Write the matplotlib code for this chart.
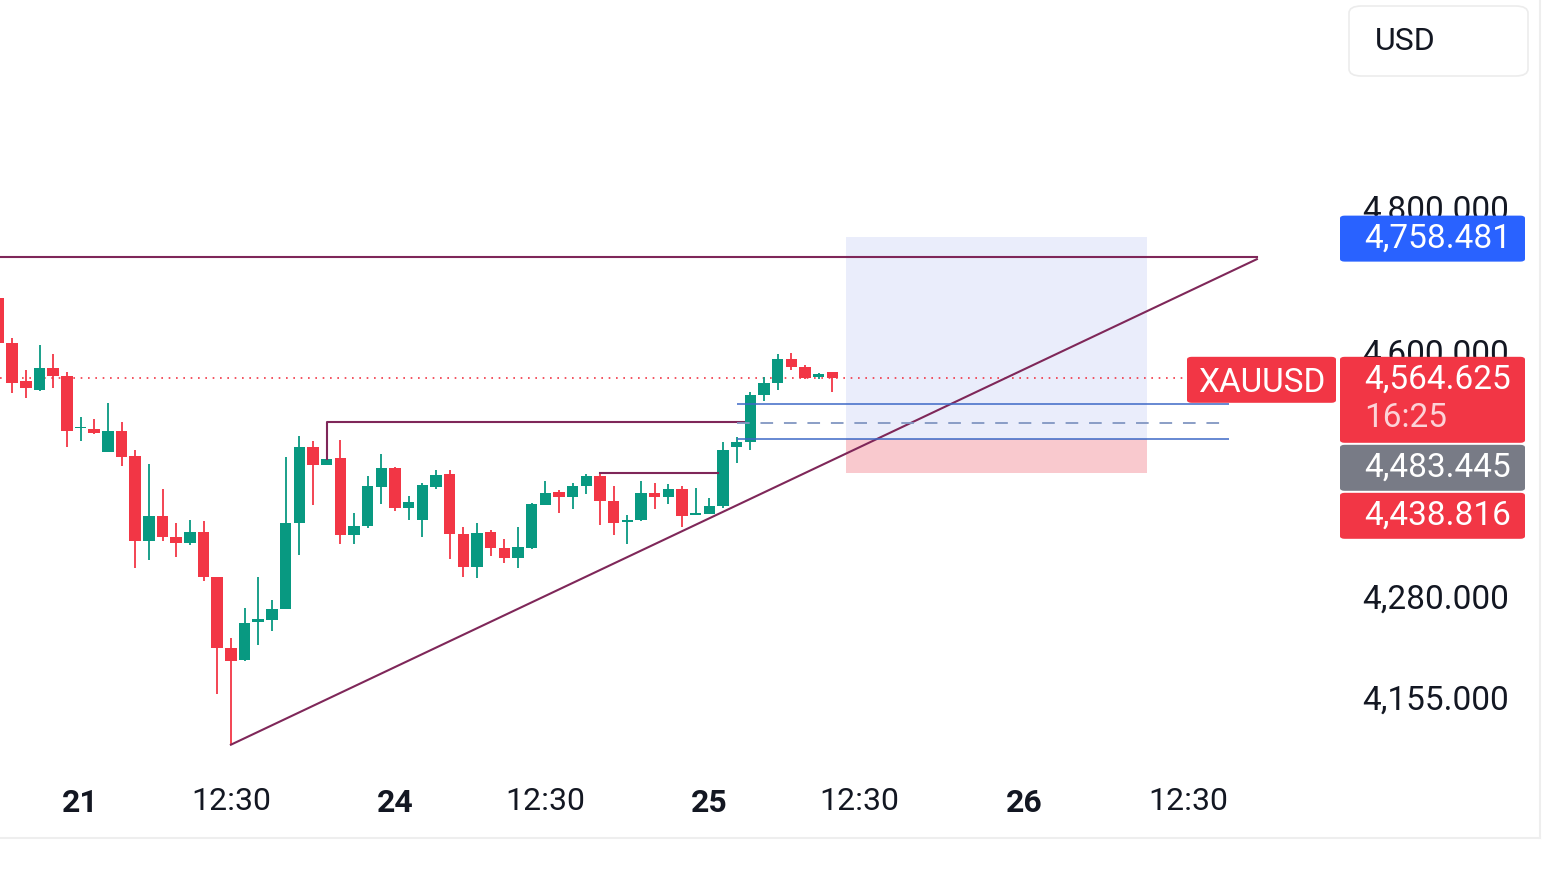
import numpy as np
import matplotlib
matplotlib.use('Agg')
import matplotlib.pyplot as plt
from matplotlib.patches import FancyBboxPatch
from matplotlib.lines import Line2D
from matplotlib.ticker import NullLocator, NullFormatter

plt.rcParams['font.family'] = ['Roboto', 'DejaVu Sans']

# hourly XAUUSD candles
opens = [4673, 4611, 4560, 4548, 4578, 4567, 4497, 4496, 4466, 4493,
         4461, 4350, 4383, 4356, 4348, 4362, 4305, 4216, 4200, 4248,
         4250, 4264, 4374, 4473, 4449, 4458, 4358, 4370, 4420, 4445,
         4393, 4377, 4420, 4437, 4360, 4317, 4362, 4342, 4329, 4342,
         4397, 4414, 4407, 4422, 4435, 4402, 4375, 4377, 4412, 4407,
         4417, 4384, 4385, 4395, 4472, 4479, 4542, 4558, 4590, 4579,
         4566, 4572]
highs = [4676, 4618, 4575, 4609, 4597, 4572, 4512, 4510, 4531, 4506,
         4468, 4450, 4417, 4373, 4377, 4376, 4305, 4228, 4265, 4304,
         4276, 4459, 4487, 4481, 4506, 4482, 4387, 4434, 4463, 4446,
         4408, 4426, 4442, 4442, 4369, 4374, 4365, 4353, 4369, 4400,
         4428, 4416, 4426, 4437, 4439, 4422, 4384, 4428, 4426, 4424,
         4422, 4419, 4406, 4479, 4486, 4546, 4566, 4597, 4598, 4582,
         4571, 4573]
lows = [4609, 4544, 4537, 4547, 4551, 4472, 4480, 4490, 4466, 4448,
        4316, 4326, 4351, 4330, 4345, 4299, 4159, 4097, 4199, 4219,
        4237, 4264, 4333, 4397, 4449, 4347, 4347, 4367, 4398, 4389,
        4378, 4356, 4417, 4327, 4304, 4303, 4331, 4322, 4316, 4340,
        4397, 4387, 4392, 4411, 4371, 4358, 4346, 4376, 4391, 4398,
        4368, 4384, 4385, 4393, 4452, 4469, 4534, 4548, 4575, 4563,
        4563, 4545]
closes = [4612, 4558, 4551, 4578, 4567, 4494, 4499, 4491, 4493, 4460,
          4350, 4383, 4356, 4348, 4362, 4305, 4215, 4199, 4247, 4251,
          4264, 4374, 4473, 4449, 4457, 4358, 4370, 4421, 4445, 4393,
          4401, 4423, 4436, 4359, 4317, 4361, 4342, 4329, 4343, 4398,
          4412, 4407, 4422, 4435, 4402, 4374, 4378, 4412, 4407, 4417,
          4383, 4387, 4395, 4469, 4479, 4542, 4558, 4590, 4579, 4565,
          4570, 4564.625]

xtick_pos = [6, 17, 29, 40, 52, 63, 75, 87]
xtick_labels = ['21', '12:30', '24', '12:30', '25', '12:30', '26', '12:30']
ytick_vals = [4155, 4280, 4600, 4800]

last_price = 4564.625
target_price = 4758.481
entry_price = 4483.445
stop_price = 4438.816
resistance = 4730
breakout_hi = 4529
breakout_mid = 4504

RED = '#F23645'
GREEN = '#089981'
PURPLE = '#7F2759'
TXT = '#131722'

W, H = 1568, 882
fig = plt.figure(figsize=(W / 100, H / 100), dpi=100)
ax = fig.add_axes([0, 1 - 775 / H, 1340 / W, 775 / H])
ax.set_yscale('log')
ax.set_xlim(0.11, 98.13)
ax.set_ylim(4060.6, 5102)

# candles
x = np.arange(len(opens))
o, h, l, c = (np.array(v, dtype=float) for v in (opens, highs, lows, closes))
cols = np.where(c >= o, GREEN, RED)
ax.vlines(x, l, h, colors=cols, lw=1.3, zorder=4)
ax.bar(x, np.maximum(np.abs(c - o), 1.8), bottom=np.minimum(o, c),
       width=0.84, color=cols, zorder=5)

# long position tool
ax.fill_between([62, 84], entry_price, target_price, color='#EAEDFB', lw=0, zorder=1)
ax.fill_between([62, 84], stop_price, entry_price, color='#F9C9CE', lw=0, zorder=1)

# trend lines
ax.plot([0.11, 92.05], [resistance, resistance], color=PURPLE, lw=1.5, zorder=6)
ax.plot([17, 92.05], [lows[17], 4727], color=PURPLE, lw=1.5, zorder=6)
ax.plot([24, 24, 54.5], [closes[24], highs[24], highs[24]], color=PURPLE, lw=1.5, zorder=6)
ax.plot([44, 52.6], [highs[44], highs[44]], color=PURPLE, lw=1.5, zorder=6)

# breakout zone
ax.hlines([breakout_hi, entry_price], 54, 90, colors='#3D68C6', lw=1.1, zorder=6)
ax.hlines(breakout_mid, 54, 90, colors='#8196C2', lw=1.3, linestyles=(0, (7, 6)), zorder=6)

# last price dotted line
ax.hlines(last_price, 0.11, 86.9, colors=RED, lw=1.2, linestyles=(0, (1, 3.4)), zorder=2)

for s in ax.spines.values():
    s.set_visible(False)
ax.yaxis.tick_right()
ax.yaxis.set_minor_locator(NullLocator())
ax.yaxis.set_minor_formatter(NullFormatter())
ax.set_yticks(ytick_vals, [f'{v:,.3f}' for v in ytick_vals])
ax.tick_params(axis='y', length=0, pad=16, labelsize=24, labelcolor=TXT)
ax.set_xticks(xtick_pos, xtick_labels)
ax.tick_params(axis='x', length=0, pad=9, labelsize=23, labelcolor=TXT)
for t in ax.get_xticklabels():
    if ':' not in t.get_text():
        t.set_fontweight('bold')


def fx(px):
    return px / W


def fy(py):
    return 1 - py / H


def img_y(price):
    return H - ax.transData.transform((0, price))[1]


# price scale tags, stacked so they don't overlap
tags = [(target_price, '#2962FF', [f'{target_price:,.3f}']),
        (last_price, RED, [f'{last_price:,.3f}', '16:25']),
        (entry_price, '#787B86', [f'{entry_price:,.3f}']),
        (stop_price, RED, [f'{stop_price:,.3f}'])]
prev_bottom = -1e9
for price, col, lines in tags:
    top = max(img_y(price) - 21, prev_bottom + 2)
    hgt = 46 if len(lines) == 1 else 86
    fig.add_artist(FancyBboxPatch((fx(1340), fy(top + hgt)), fx(185), hgt / H,
                                  boxstyle='round,pad=0,rounding_size=0.003',
                                  transform=fig.transFigure, fc=col, ec='none'))
    fig.text(fx(1364), fy(top + 23), lines[0], color='white', fontsize=24,
             va='center', ha='left')
    if len(lines) > 1:
        fig.text(fx(1364), fy(top + 61), lines[1], color='#FCD3D8', fontsize=24,
                 va='center', ha='left')
    if price == last_price:
        fig.add_artist(FancyBboxPatch((fx(1187), fy(top + 46)), fx(149), 46 / H,
                                      boxstyle='round,pad=0,rounding_size=0.003',
                                      transform=fig.transFigure, fc=col, ec='none'))
        fig.text(fx(1261.5), fy(top + 26), 'XAUUSD', color='white', fontsize=24,
                 va='center', ha='center')
    prev_bottom = top + hgt

# currency button
fig.add_artist(FancyBboxPatch((fx(1349), fy(76)), fx(179), 70 / H,
                              boxstyle='round,pad=0,rounding_size=0.008',
                              transform=fig.transFigure, fc='white', ec='#ECECEC', lw=1.2))
fig.text(fx(1375), fy(41), 'USD', color=TXT, fontsize=23, va='center', ha='left')

# outer frame lines
fig.add_artist(Line2D([0, fx(1540)], [fy(838), fy(838)], transform=fig.transFigure,
                      color='#EEEEEE', lw=1.5))
fig.add_artist(Line2D([fx(1540), fx(1540)], [fy(838), 1], transform=fig.transFigure,
                      color='#EEEEEE', lw=1.5))

fig.savefig('out.png', dpi=100, facecolor='white')
